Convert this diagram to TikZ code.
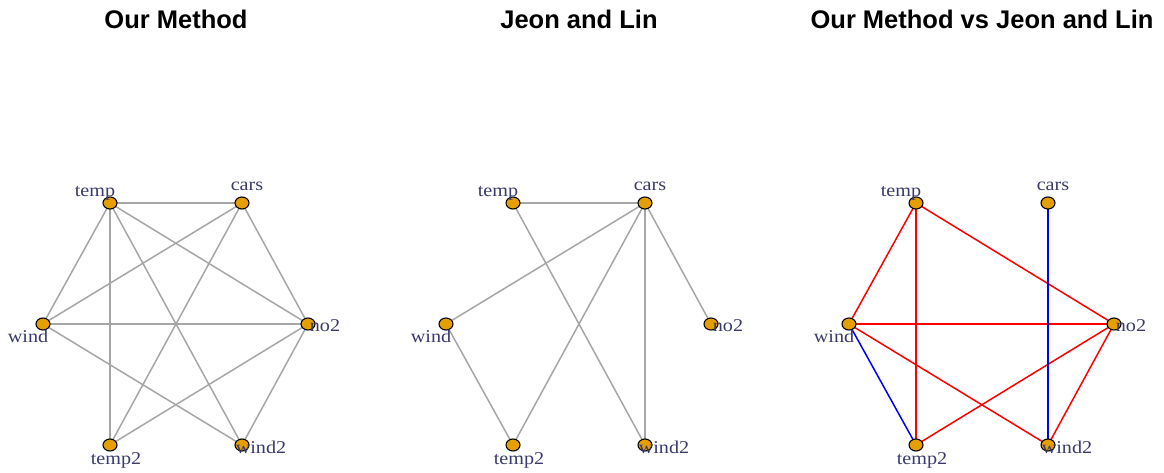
\documentclass[tikz,border=0pt]{standalone}
\usepackage{fontspec}
\setmainfont{Liberation Serif}
\newfontfamily\titlefont{Liberation Sans}
\usetikzlibrary{shapes.geometric}
\definecolor{vfill}{HTML}{E69F00}
\definecolor{vlabel}{HTML}{3A3A6C}
\definecolor{egray}{HTML}{A6A6A6}
\tikzset{
  vert/.style={ellipse, draw=black, line width=1.1pt, fill=vfill, minimum width=14pt, minimum height=12pt, inner sep=0pt},
  vlab/.style={text=vlabel, inner sep=0pt, font=\fontsize{18}{18}\selectfont},
  ptitle/.style={inner sep=0pt, font=\titlefont\bfseries\fontsize{25.5}{25.5}\selectfont},
  gedge/.style={draw=egray, line width=1.5pt},
  redge/.style={draw=red, line width=1.5pt},
  bedge/.style={draw=blue, line width=1.5pt},
}
\newcommand{\wlab}[1]{\scalebox{1.12}[1]{#1}}
\begin{document}
\begin{tikzpicture}[x=1pt, y=-1pt]
\useasboundingbox (0,0) rectangle (1164,473);

% ---------- panel titles
\node[ptitle] (t1) at (176,19) {Our Method};
\node[ptitle] (t2) at (579,19) {Jeon and Lin};
\node[ptitle] (t3) at (982,19) {Our Method vs Jeon and Lin};

% ---------- vertex coordinates of the three panels
\foreach \p/\dx in {a/0, b/403, c/806}{
  \coordinate (\p temp)  at (110+\dx,203);
  \coordinate (\p cars)  at (242+\dx,203);
  \coordinate (\p wind)  at (43+\dx,324);
  \coordinate (\p no2)   at (308+\dx,324);
  \coordinate (\p temp2) at (110+\dx,445);
  \coordinate (\p wind2) at (242+\dx,445);
}

% ---------- edges, panel 1
\foreach \u/\v in {temp/cars, temp/wind, temp/no2, temp/temp2, temp/wind2,
                   cars/wind, cars/no2, cars/temp2, wind/no2, wind/wind2,
                   no2/temp2, no2/wind2}
  \draw[gedge] (a\u) -- (a\v);

% ---------- edges, panel 2
\foreach \u/\v in {temp/cars, temp/wind2, cars/wind, cars/temp2, cars/wind2,
                   cars/no2, wind/temp2}
  \draw[gedge] (b\u) -- (b\v);

% ---------- edges, panel 3
\foreach \u/\v in {temp/wind, temp/no2, temp/temp2, wind/no2, wind/wind2,
                   no2/temp2, no2/wind2}
  \draw[redge] (c\u) -- (c\v);
\foreach \u/\v in {cars/wind2, wind/temp2}
  \draw[bedge] (c\u) -- (c\v);

% ---------- vertices and labels
\foreach \p in {a,b,c}{
  \foreach \v in {temp,cars,wind,no2,temp2,wind2}
    \node[vert] (\p\v n) at (\p\v) {};
  \node[vlab] (\p tempL)  at ([shift={(-15,-10)}]\p temp)  {\wlab{temp}};
  \node[vlab] (\p carsL)  at ([shift={(5,-17)}]\p cars)    {\wlab{cars}};
  \node[vlab] (\p windL)  at ([shift={(-15,12)}]\p wind)   {\wlab{wind}};
  \node[vlab] (\p no2L)   at ([shift={(17,2)}]\p no2)      {\wlab{no2}};
  \node[vlab] (\p temp2L) at ([shift={(6,15)}]\p temp2)    {\wlab{temp2}};
  \node[vlab] (\p wind2L) at ([shift={(19,2)}]\p wind2)    {\wlab{wind2}};
}
\end{tikzpicture}
\end{document}
